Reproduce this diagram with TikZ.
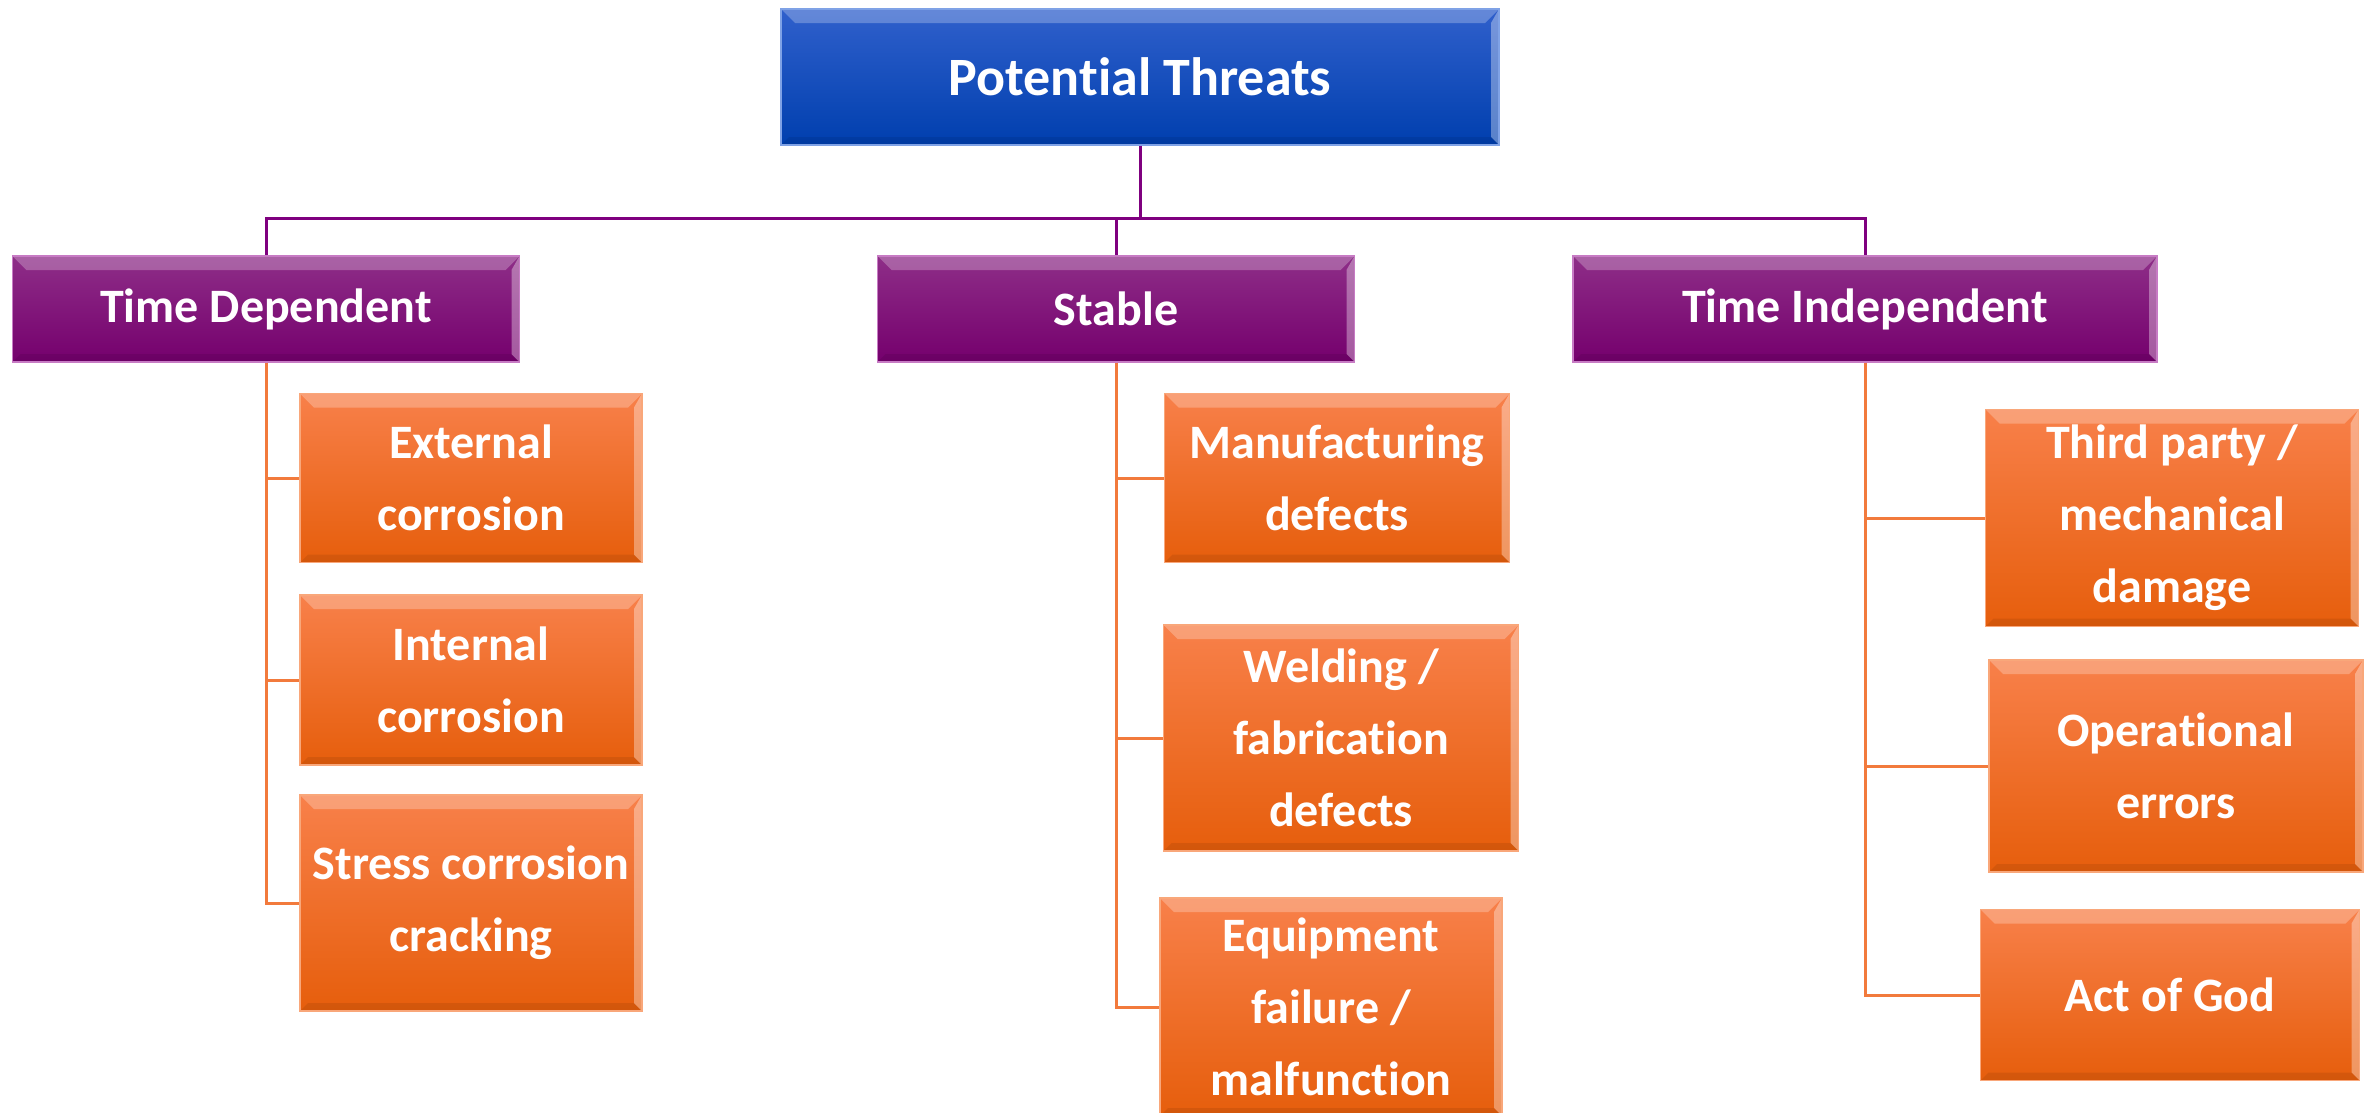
\documentclass[tikz,border=0pt]{standalone}
\usepackage{fontspec}
\setmainfont{Carlito}[RawFeature={-liga;-clig;-dlig}]
\definecolor{roottop}{HTML}{3060CC}
\definecolor{rootmid}{HTML}{0747BA}
\definecolor{rootbot}{HTML}{003FAE}
\definecolor{rootedge}{HTML}{7FA2E6}
\definecolor{grptop}{HTML}{8E2E88}
\definecolor{grpmid}{HTML}{7F0078}
\definecolor{grpbot}{HTML}{75006D}
\definecolor{grpedge}{HTML}{C77BC4}
\definecolor{thrtop}{HTML}{F8804A}
\definecolor{thrmid}{HTML}{FC6C1A}
\definecolor{thrbot}{HTML}{E65E0C}
\definecolor{thredge}{HTML}{F9A77A}
\definecolor{linepurple}{HTML}{7F007F}
\definecolor{lineorange}{HTML}{F27A3C}
\tikzset{
  bevel/.style={path picture={
    \fill[white,opacity=0.25] (path picture bounding box.north west) -- (path picture bounding box.north east)
      -- ([xshift=-14pt,yshift=-14pt]path picture bounding box.north east) -- ([xshift=14pt,yshift=-14pt]path picture bounding box.north west) -- cycle;
    \fill[white,opacity=0.35] (path picture bounding box.north east) -- (path picture bounding box.south east)
      -- ([xshift=-8pt,yshift=8pt]path picture bounding box.south east) -- ([xshift=-8pt,yshift=-14pt]path picture bounding box.north east) -- cycle;
    \fill[black,opacity=0.08] (path picture bounding box.south west) -- (path picture bounding box.south east)
      -- ([xshift=-8pt,yshift=8pt]path picture bounding box.south east) -- ([xshift=8pt,yshift=8pt]path picture bounding box.south west) -- cycle;}},
  rootbox/.style={draw=rootedge, line width=1.5pt, top color=roottop, middle color=rootmid, bottom color=rootbot, bevel,
    text=white, font=\bfseries\fontsize{54}{62}\selectfont, inner sep=0pt, minimum width=718pt, minimum height=136pt},
  grpbox/.style={draw=grpedge, line width=1.5pt, top color=grptop, middle color=grpmid, bottom color=grpbot, bevel,
    text=white, font=\bfseries\fontsize{48}{58}\selectfont, inner sep=0pt, minimum height=106pt},
  thrbox/.style={draw=thredge, line width=1.5pt, top color=thrtop, middle color=thrmid, bottom color=thrbot, bevel,
    text=white, font=\bfseries\fontsize{48}{72}\selectfont, align=center, inner sep=0pt},
  grpline/.style={draw=linepurple, line width=3pt},
  thrline/.style={draw=lineorange, line width=3pt},
}
\begin{document}
\begin{tikzpicture}[x=1pt, y=-1pt]
  \useasboundingbox (0,0) rectangle (2374,1112);

  % top of the tree
  \node[rootbox] (threats) at (1140,77) {Potential Threats};

  % the three groups
  \node[grpbox, minimum width=507pt] (tdep) at (266,309) {Time Dependent};
  \node[grpbox, minimum width=477pt] (stab) at (1116,309) {Stable};
  \node[grpbox, minimum width=584pt] (tind) at (1865,309) {Time Independent};

  \coordinate (bus) at (1140,218);
  \draw[grpline] (threats.south) -- (bus);
  \draw[grpline] (bus) -| (tdep.north);
  \draw[grpline] (bus) -| (stab.north);
  \draw[grpline] (bus) -| (tind.north);

  % time dependent
  \node[thrbox, minimum width=342pt, minimum height=169pt] (extcor) at (471,478) {External\\corrosion};
  \node[thrbox, minimum width=342pt, minimum height=170pt] (intcor) at (471,680) {Internal\\corrosion};
  \node[thrbox, minimum width=342pt, minimum height=216pt] (scc) at (471,903) {Stress corrosion\\cracking};

  \draw[thrline] (tdep.south) |- (extcor.west);
  \draw[thrline] (tdep.south) |- (intcor.west);
  \draw[thrline] (tdep.south) |- (scc.west);

  % stable
  \node[thrbox, minimum width=345pt, minimum height=169pt] (manuf) at (1337,478) {Manufacturing\\defects};
  \node[thrbox, minimum width=355pt, minimum height=226pt] (weld) at (1341,738) {Welding /\\fabrication\\defects};
  \node[thrbox, minimum width=342pt, minimum height=218pt] (equip) at (1331,1007) {Equipment\\failure /\\malfunction};

  \draw[thrline] (stab.south) |- (manuf.west);
  \draw[thrline] (stab.south) |- (weld.west);
  \draw[thrline] (stab.south) |- (equip.west);

  % time independent
  \node[thrbox, minimum width=373pt, minimum height=217pt] (third) at (2172,518) {Third party /\\mechanical\\damage};
  \node[thrbox, minimum width=374pt, minimum height=212pt] (operr) at (2176,766) {Operational\\errors};
  \node[thrbox, minimum width=379pt, minimum height=171pt] (actgod) at (2170,995) {Act of God};

  \draw[thrline] (tind.south) |- (third.west);
  \draw[thrline] (tind.south) |- (operr.west);
  \draw[thrline] (tind.south) |- (actgod.west);
\end{tikzpicture}
\end{document}
